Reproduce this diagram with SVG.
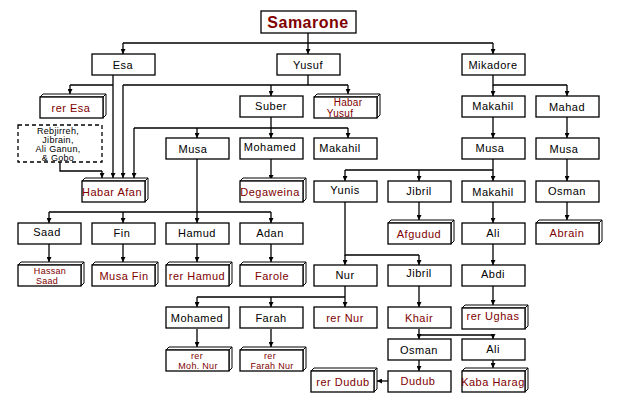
<svg xmlns="http://www.w3.org/2000/svg" width="620" height="404" viewBox="0 0 620 404">
<style>
rect{fill:#fff;stroke:#000;stroke-width:1.3}
.f{fill:#fff;stroke:#000;stroke-width:1}
text{font-family:"Liberation Sans",Arial,sans-serif;font-size:11px;text-anchor:middle;fill:#000;letter-spacing:0.5px}
.r{fill:#800000}
.s{font-size:9px;letter-spacing:0.3px}
#c path{fill:none;stroke:#000;stroke-width:1.3;marker-end:url(#a)}
#c path.n{marker-end:none}
</style>
<defs>
<marker id="a" markerWidth="6" markerHeight="5" refX="5" refY="2.5" orient="auto" markerUnits="userSpaceOnUse"><path d="M0,0 L5,2.5 L0,5 z" fill="#000"/></marker>
<g id="b3"><polygon class="f" points="0,3 3,0 66,0 66,21 63,24 63,3"/><path d="M63,3 L66,0" stroke="#000"/></g>
</defs>
<g id="c">
<path class="n" d="M308,33 V43 M123,43 H493"/>
<path d="M123,43 V54"/><path d="M308,43 V54"/><path d="M493,43 V54"/>
<path class="n" d="M70,85 H113"/><path d="M70,85 V94"/>
<path d="M113,75 V178"/>
<path class="n" d="M308,75 V85 M123,85 H348"/>
<path d="M123,85 V178"/><path d="M271,85 V96"/><path d="M348,85 V94"/>
<path class="n" d="M60,162 V171 H102"/><path d="M102,171 V178"/>
<path class="n" d="M271,117 V128 M134,128 H348"/>
<path d="M134,128 V178"/><path d="M197,128 V138"/><path d="M271,128 V138"/><path d="M348,128 V138"/>
<path class="n" d="M493,75 V85 H567"/><path d="M493,85 V96"/><path d="M567,85 V96"/>
<path d="M493,117 V138"/><path d="M567,117 V138"/>
<path d="M271,159 V180"/>
<path class="n" d="M493,159 V170 M345,170 H493"/>
<path d="M345,170 V181"/><path d="M419,170 V181"/><path d="M493,170 V181"/>
<path d="M567,159 V181"/>
<path class="n" d="M197,159 V212 M49,212 H271"/>
<path d="M49,212 V223"/><path d="M123,212 V223"/><path d="M197,212 V223"/><path d="M271,212 V223"/>
<path d="M419,202 V220"/><path d="M493,202 V223"/><path d="M567,202 V220"/>
<path d="M49,244 V262"/><path d="M123,244 V262"/><path d="M197,244 V262"/><path d="M271,244 V262"/>
<path class="n" d="M345,202 V255 H419"/><path d="M345,255 V265"/><path d="M419,255 V265"/>
<path d="M493,244 V265"/>
<path class="n" d="M345,286 V297 M197,297 H345"/>
<path d="M197,297 V307"/><path d="M271,297 V307"/><path d="M345,297 V307"/>
<path d="M419,286 V307"/><path d="M493,286 V305"/>
<path class="n" d="M419,329 V335 H493"/><path d="M419,335 V339"/><path d="M493,335 V339"/>
<path d="M197,329 V347"/><path d="M271,329 V347"/>
<path d="M419,360 V371"/><path d="M493,360 V368"/>
<path d="M388,381 H377"/>
</g>
<g id="samarone"><rect x="261" y="11" width="95" height="22"/><text x="308" y="28" class="r" style="font-size:16px;font-weight:bold">Samarone</text></g>
<g id="esa"><rect x="92" y="54" width="63" height="21"/><text x="123" y="69">Esa</text></g>
<g id="yusuf"><rect x="277" y="54" width="63" height="21"/><text x="308" y="69">Yusuf</text></g>
<g id="mikadore"><rect x="462" y="54" width="63" height="21"/><text x="493" y="69">Mikadore</text></g>
<g id="reresa"><use href="#b3" x="40" y="94"/><rect x="40" y="97" width="63" height="21"/><text x="71" y="112" class="r">rer Esa</text></g>
<g id="suber"><rect x="240" y="96" width="63" height="21"/><text x="271" y="110">Suber</text></g>
<g id="habaryusuf"><use href="#b3" x="314" y="94"/><rect x="314" y="97" width="63" height="21"/><text x="348" y="106" class="r s" style="font-size:10px">Habar</text><text x="340" y="117" class="r s" style="font-size:10px">Yusuf</text></g>
<g id="makahil1"><rect x="462" y="96" width="63" height="21"/><text x="493" y="110">Makahil</text></g>
<g id="mahad"><rect x="536" y="96" width="63" height="21"/><text x="567" y="111">Mahad</text></g>
<g id="rebjirreh"><rect x="18" y="125" width="84" height="37" style="stroke-dasharray:4,3"/><text x="58" y="134" class="s">Rebjirreh,</text><text x="58" y="143" class="s">Jibrain,</text><text x="58" y="152" class="s">Ali Ganun,</text><text x="58" y="161" class="s">&amp; Gobo</text></g>
<g id="musa1"><rect x="166" y="138" width="63" height="21"/><text x="193" y="153">Musa</text></g>
<g id="mohamed1"><rect x="240" y="138" width="63" height="21"/><text x="270" y="151">Mohamed</text></g>
<g id="makahil2"><rect x="314" y="138" width="63" height="21"/><text x="340" y="152">Makahil</text></g>
<g id="musa2"><rect x="462" y="138" width="63" height="21"/><text x="490" y="152">Musa</text></g>
<g id="musa3"><rect x="536" y="138" width="63" height="21"/><text x="564" y="153">Musa</text></g>
<g id="habarafan"><use href="#b3" x="82" y="178"/><rect x="82" y="181" width="63" height="21"/><text x="112" y="196" class="r">Habar Afan</text></g>
<g id="degaweina"><use href="#b3" x="240" y="178"/><rect x="240" y="181" width="63" height="21"/><text x="270" y="196" class="r">Degaweina</text></g>
<g id="yunis"><rect x="314" y="181" width="63" height="21"/><text x="345" y="194">Yunis</text></g>
<g id="jibril1"><rect x="388" y="181" width="63" height="21"/><text x="419" y="195">Jibril</text></g>
<g id="makahil3"><rect x="462" y="181" width="63" height="21"/><text x="493" y="196">Makahil</text></g>
<g id="osman1"><rect x="536" y="181" width="63" height="21"/><text x="567" y="195">Osman</text></g>
<g id="saad"><rect x="18" y="223" width="63" height="21"/><text x="47" y="236">Saad</text></g>
<g id="fin"><rect x="92" y="223" width="63" height="21"/><text x="122" y="237">Fin</text></g>
<g id="hamud"><rect x="166" y="223" width="63" height="21"/><text x="197" y="237">Hamud</text></g>
<g id="adan"><rect x="240" y="223" width="63" height="21"/><text x="270" y="237">Adan</text></g>
<g id="afgudud"><use href="#b3" x="388" y="220"/><rect x="388" y="223" width="63" height="21"/><text x="419" y="238" class="r">Afgudud</text></g>
<g id="ali1"><rect x="462" y="223" width="63" height="21"/><text x="493" y="237">Ali</text></g>
<g id="abrain"><use href="#b3" x="536" y="220"/><rect x="536" y="223" width="63" height="21"/><text x="567" y="237" class="r">Abrain</text></g>
<g id="hassansaad"><use href="#b3" x="18" y="262"/><rect x="18" y="265" width="63" height="21"/><text x="50" y="274" class="r s">Hassan</text><text x="47" y="284" class="r s">Saad</text></g>
<g id="musafin"><use href="#b3" x="92" y="262"/><rect x="92" y="265" width="63" height="21"/><text x="124" y="280" class="r">Musa Fin</text></g>
<g id="rerhamud"><use href="#b3" x="166" y="262"/><rect x="166" y="265" width="63" height="21"/><text x="197" y="280" class="r">rer Hamud</text></g>
<g id="farole"><use href="#b3" x="240" y="262"/><rect x="240" y="265" width="63" height="21"/><text x="272" y="280" class="r">Farole</text></g>
<g id="nur"><rect x="314" y="265" width="63" height="21"/><text x="345" y="279">Nur</text></g>
<g id="jibril2"><rect x="388" y="265" width="63" height="21"/><text x="419" y="277">Jibril</text></g>
<g id="abdi"><rect x="462" y="265" width="63" height="21"/><text x="493" y="278">Abdi</text></g>
<g id="mohamed2"><rect x="166" y="307" width="63" height="21"/><text x="197" y="322">Mohamed</text></g>
<g id="farah"><rect x="240" y="307" width="63" height="21"/><text x="271" y="322">Farah</text></g>
<g id="rernur"><rect x="314" y="307" width="63" height="21"/><text x="345" y="322" class="r">rer Nur</text></g>
<g id="khair"><rect x="388" y="307" width="63" height="21"/><text x="419" y="322" class="r">Khair</text></g>
<g id="rerughas"><use href="#b3" x="462" y="305"/><rect x="462" y="308" width="63" height="21"/><text x="493" y="320" class="r">rer Ughas</text></g>
<g id="osman2"><rect x="388" y="339" width="63" height="21"/><text x="419" y="354">Osman</text></g>
<g id="ali2"><rect x="462" y="339" width="63" height="21"/><text x="493" y="353">Ali</text></g>
<g id="rermohnur"><use href="#b3" x="166" y="347"/><rect x="166" y="350" width="63" height="21"/><text x="197" y="359" class="r s">rer</text><text x="198" y="369" class="r s">Moh. Nur</text></g>
<g id="rerfarahnur"><use href="#b3" x="240" y="347"/><rect x="240" y="350" width="63" height="21"/><text x="270" y="359" class="r s">rer</text><text x="272" y="369" class="r s">Farah Nur</text></g>
<g id="rerdudub"><use href="#b3" x="311" y="368"/><rect x="311" y="371" width="63" height="21"/><text x="343" y="386" class="r">rer Dudub</text></g>
<g id="dudub"><rect x="388" y="371" width="63" height="21"/><text x="418" y="385" class="r">Dudub</text></g>
<g id="kabaharag"><use href="#b3" x="462" y="368"/><rect x="462" y="371" width="63" height="21"/><text x="493" y="386" class="r">Kaba Harag</text></g>
</svg>
